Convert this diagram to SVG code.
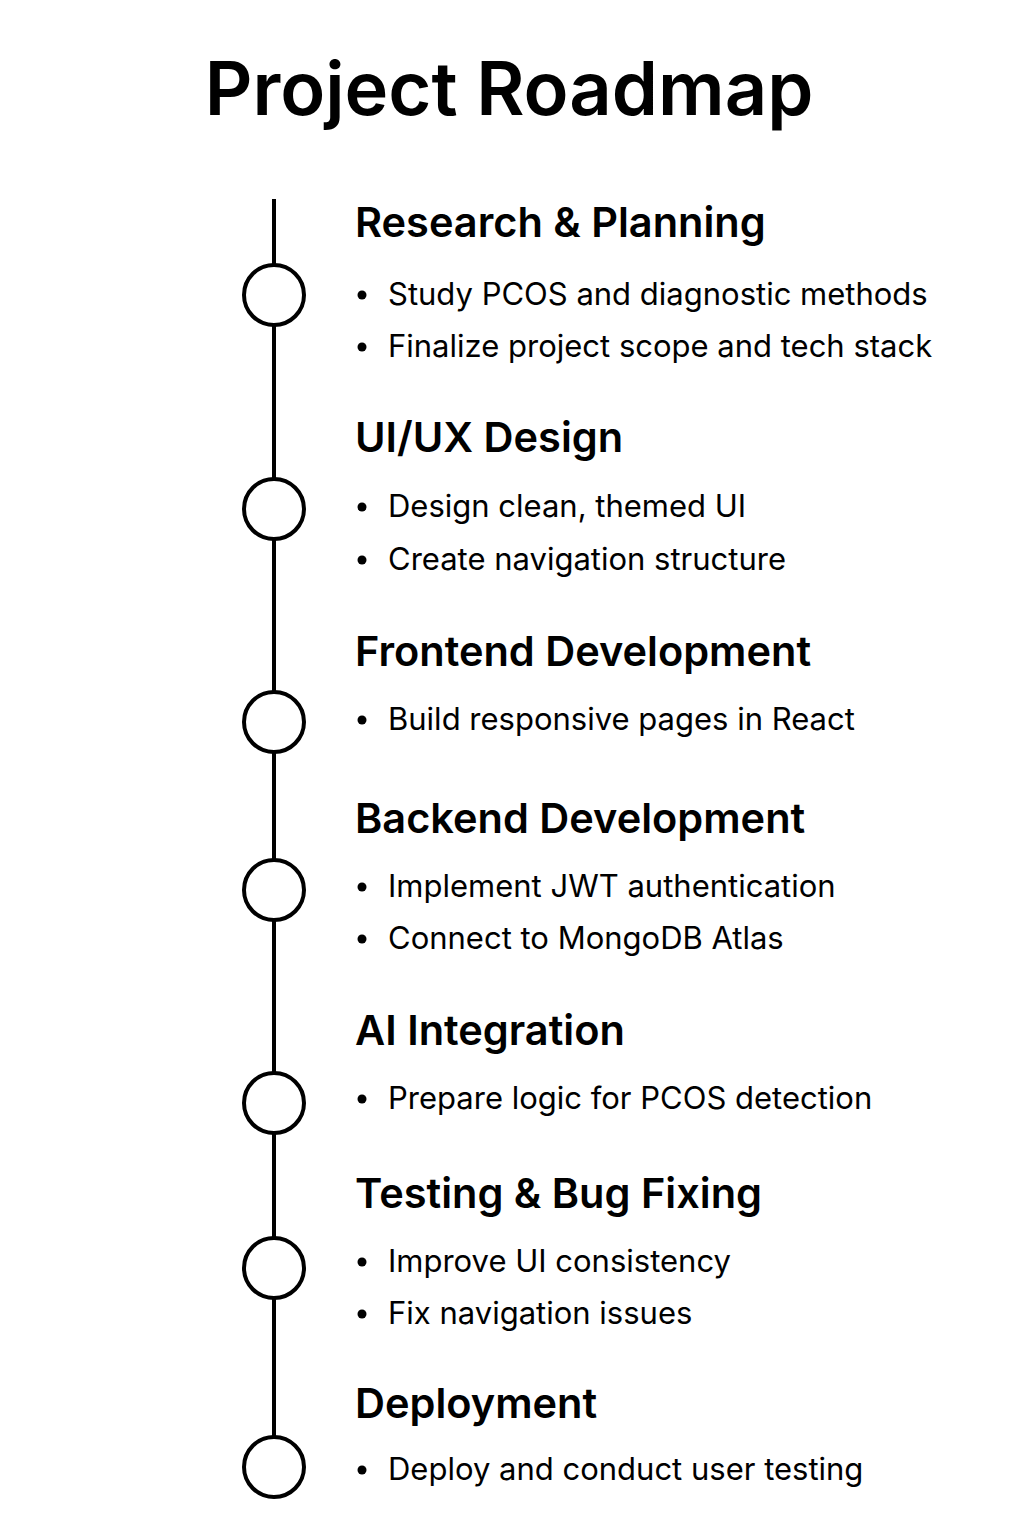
<svg xmlns="http://www.w3.org/2000/svg" width="1024" height="1536" viewBox="0 0 1024 1536">
  <style>
    .title { font-family: Inter, "Noto Sans", "Liberation Sans", sans-serif; font-weight: 600; font-size: 74px; fill: #000; }
    .head { font-family: Inter, "Noto Sans", "Liberation Sans", sans-serif; font-weight: 600; font-size: 41.5px; fill: #000; }
    .item { font-family: Inter, "Noto Sans", "Liberation Sans", sans-serif; font-weight: 400; font-size: 31px; fill: #000; }
    .dot { fill: #000; }
    .milestone { fill: #fff; stroke: #000; stroke-width: 4; }
    .spine { stroke: #000; stroke-width: 4; fill: none; }
  </style>
  <rect width="1024" height="1536" fill="#fff"/>
  <text class="title" x="509" y="115" text-anchor="middle">Project Roadmap</text>

  <!-- vertical timeline -->
  <g id="connectors">
    <line class="spine" x1="274" y1="199" x2="274" y2="1437"/>
  </g>

  <g id="research-planning">
    <circle class="milestone" cx="274" cy="295" r="30"/>
    <text class="head" x="355" y="237">Research &amp; Planning</text>
    <circle class="dot" cx="362" cy="295" r="4.5"/>
    <text class="item" x="388" y="305">Study PCOS and diagnostic methods</text>
    <circle class="dot" cx="362" cy="347" r="4.5"/>
    <text class="item" x="388" y="357">Finalize project scope and tech stack</text>
  </g>

  <g id="uiux-design">
    <circle class="milestone" cx="274" cy="509" r="30"/>
    <text class="head" x="355" y="452">UI/UX Design</text>
    <circle class="dot" cx="362" cy="507" r="4.5"/>
    <text class="item" x="388" y="517">Design clean, themed UI</text>
    <circle class="dot" cx="362" cy="560" r="4.5"/>
    <text class="item" x="388" y="570">Create navigation structure</text>
  </g>

  <g id="frontend-development">
    <circle class="milestone" cx="274" cy="722" r="30"/>
    <text class="head" x="355" y="666">Frontend Development</text>
    <circle class="dot" cx="362" cy="720" r="4.5"/>
    <text class="item" x="388" y="730">Build responsive pages in React</text>
  </g>

  <g id="backend-development">
    <circle class="milestone" cx="274" cy="890" r="30"/>
    <text class="head" x="355" y="833">Backend Development</text>
    <circle class="dot" cx="362" cy="887" r="4.5"/>
    <text class="item" x="388" y="897">Implement JWT authentication</text>
    <circle class="dot" cx="362" cy="939" r="4.5"/>
    <text class="item" x="388" y="949">Connect to MongoDB Atlas</text>
  </g>

  <g id="ai-integration">
    <circle class="milestone" cx="274" cy="1103" r="30"/>
    <text class="head" x="355" y="1045">AI Integration</text>
    <circle class="dot" cx="362" cy="1099" r="4.5"/>
    <text class="item" x="388" y="1109">Prepare logic for PCOS detection</text>
  </g>

  <g id="testing-bug-fixing">
    <circle class="milestone" cx="274" cy="1268" r="30"/>
    <text class="head" x="355" y="1208">Testing &amp; Bug Fixing</text>
    <circle class="dot" cx="362" cy="1262" r="4.5"/>
    <text class="item" x="388" y="1272">Improve UI consistency</text>
    <circle class="dot" cx="362" cy="1314" r="4.5"/>
    <text class="item" x="388" y="1324">Fix navigation issues</text>
  </g>

  <g id="deployment">
    <circle class="milestone" cx="274" cy="1467" r="30"/>
    <text class="head" x="355" y="1418">Deployment</text>
    <circle class="dot" cx="362" cy="1470" r="4.5"/>
    <text class="item" x="388" y="1480">Deploy and conduct user testing</text>
  </g>
</svg>
